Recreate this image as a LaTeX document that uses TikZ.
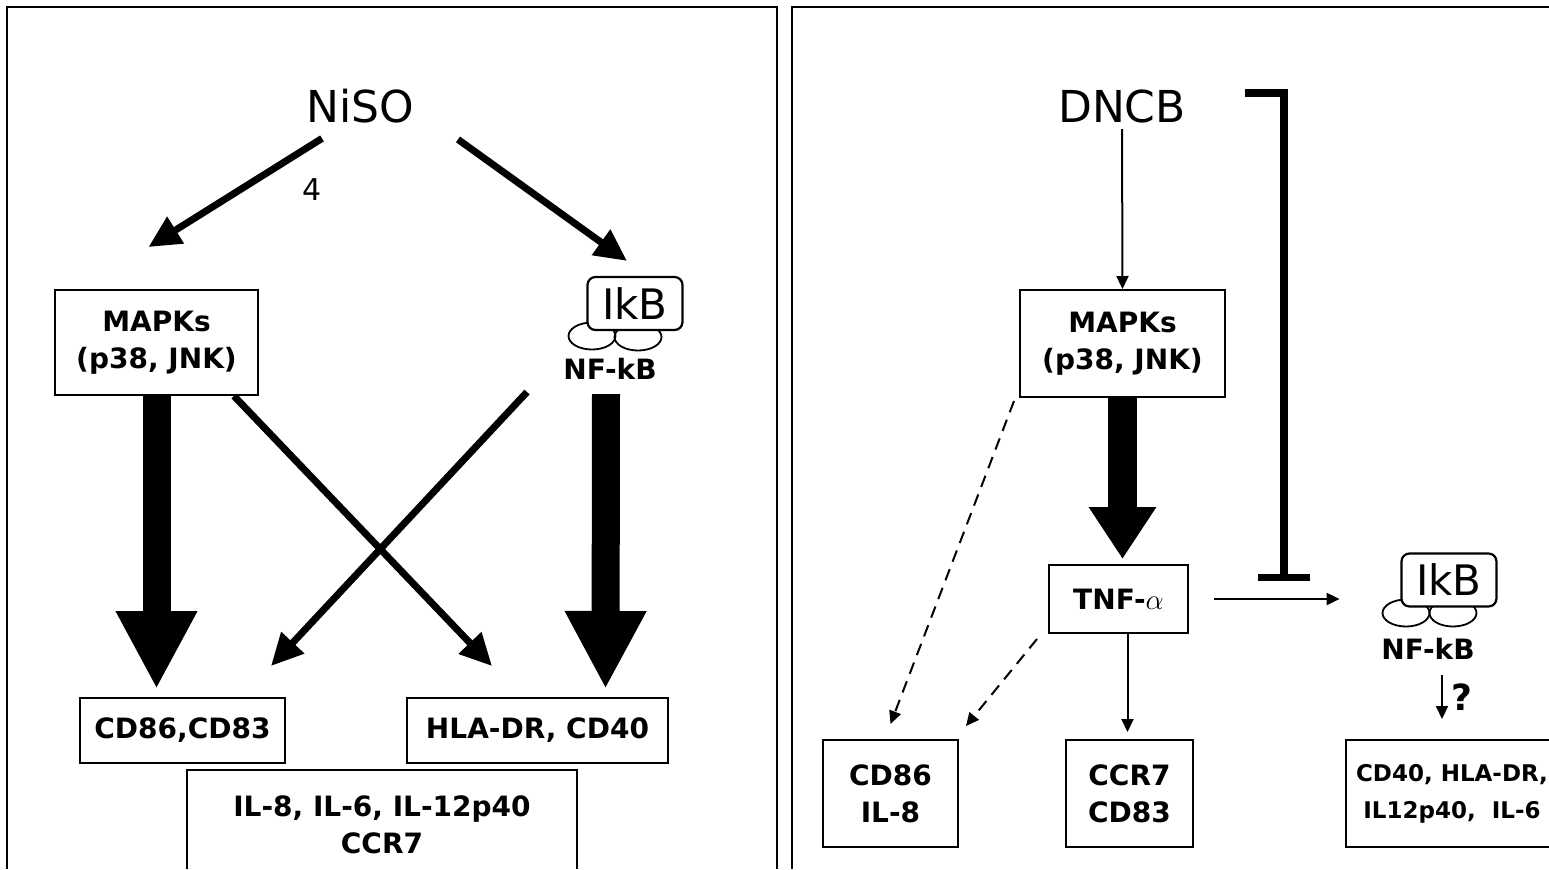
\documentclass[tikz,border=0pt]{standalone}
\usepackage{fontspec}
\setmainfont{DejaVu Sans}
\usetikzlibrary{positioning,shapes.geometric,arrows.meta}
\newcommand{\labfont}{\fontsize{14}{18.5}\selectfont\bfseries}
\newcommand{\titlefont}{\fontsize{22}{26}\selectfont}
\tikzset{
  % --- frames and boxes ------------------------------------------------------
  panel/.style={line width=1.2pt},
  boxline/.style={line width=1pt},
  box/.style={draw,line width=1pt,align=center,inner sep=0pt,font=\labfont},
  lab/.style={inner sep=0pt,align=center,font=\labfont},
  title/.style={inner sep=0pt,font=\titlefont},
  sub/.style={inner sep=0pt,font=\fontsize{15}{18}\selectfont},
  % --- IkB / NF-kB complex ---------------------------------------------------
  ikb/.style={draw,rounded corners=4pt,fill=white,line width=1.1pt,inner sep=0pt,
              minimum width=47.5pt,minimum height=26.5pt,
              font=\fontsize{21}{24}\selectfont},
  lobe/.style={ellipse,draw,line width=0.9pt,inner sep=0pt,
               minimum width=23.5pt,minimum height=13.5pt},
  % --- arrows ----------------------------------------------------------------
  thk/.style={line width=3.5pt,-{Triangle[length=16pt,width=15pt]}},
  blk/.style={line width=14pt,-{Triangle[length=39pt,width=38pt]}},
  blkr/.style={line width=14.5pt,-{Triangle[length=26pt,width=32pt]}},
  thn/.style={line width=1pt,-{Triangle[length=6.5pt,width=6pt]}},
  dsh/.style={thn,dash pattern=on 6pt off 4pt},
  inh/.style={line width=3.6pt,line join=miter,-{Bar[width=26pt]}},
  qmark/.style={inner sep=0pt,font=\fontsize{18}{20}\selectfont\bfseries},
}
\begin{document}
\begin{tikzpicture}[x=0.5pt,y=-0.5pt]
  \useasboundingbox (0,0) rectangle (1549,869);
  \draw[panel] (7,869) |- (777,7) -- (777,869);
  \draw[panel] (792,869) |- (1555,7);

  % left panel: NiSO
  \node[title] (nisoL) at (360,106) {NiSO};
  \node[sub]   (four)  at (312,190) {4};
  \node[box,minimum width=101.5pt,minimum height=52.5pt] (mapkL) at (156.5,342.5) {MAPKs\\(p38, JNK)};
  \node[lobe] (lobeL1) at (592,336) {};
  \node[lobe] (lobeL2) at (638,337) {};
  \node[ikb]  (ikbL)   at (635,303.5) {IkB};
  \node[lab]  (nfkbL)  at (610,369) {NF-kB};
  \node[box,minimum width=102.5pt,minimum height=32.5pt] (cdL)  at (182.5,730.5) {CD86,CD83};
  \node[box,minimum width=130.5pt,minimum height=32.5pt] (hlaL) at (537.5,730.5) {HLA-DR, CD40};
  \draw[boxline] (187,869) |- (577,770) -- (577,869);
  \node[lab] (ilL) at (382,825) {IL-8, IL-6, IL-12p40\\CCR7};

  \draw[thk] ([xshift=-19pt,yshift=-7.5pt]nisoL.south) -- ([xshift=-4pt,yshift=21pt]mapkL.north);
  \draw[thk] ([xshift=49pt,yshift=-8pt]nisoL.south) -- ([xshift=-4pt,yshift=7.5pt]ikbL.north);
  \draw[thk] ([xshift=-12.5pt]mapkL.south east) -- ([xshift=43pt,yshift=15.5pt]hlaL.north west);
  \draw[thk] ([xshift=-41.5pt,yshift=-6pt]nfkbL.south) -- ([xshift=-7.5pt,yshift=15.5pt]cdL.north east);
  \draw[blk] (mapkL.south) -- ([xshift=-13pt,yshift=4pt]cdL.north);
  \draw[blk] ([xshift=-2pt,yshift=-7pt]nfkbL.south) -- ([xshift=34pt,yshift=4pt]hlaL.north);

  % right panel: DNCB
  \node[title] (dncb) at (1122,106) {DNCB};
  \node[box,minimum width=102.5pt,minimum height=53.5pt] (mapkR) at (1122.5,343.5) {MAPKs\\(p38, JNK)};
  \node[box,minimum width=69.5pt,minimum height=34pt] (tnf) at (1118.5,599) {TNF-$\alpha$};
  \node[lobe] (lobeR1) at (1406,613) {};
  \node[lobe] (lobeR2) at (1453,613) {};
  \node[ikb]  (ikbR)   at (1449,580) {IkB};
  \node[lab]  (nfkbR)  at (1428,649) {NF-kB};
  \node[box,minimum width=67.5pt,minimum height=53.5pt] (cdR)   at (890.5,793.5)  {CD86\\IL-8};
  \node[box,minimum width=63.5pt,minimum height=53.5pt] (ccrR)  at (1129.5,793.5) {CCR7\\CD83};
  \node[box,minimum width=106pt,minimum height=53.5pt,font=\fontsize{11.5}{18.5}\selectfont\bfseries]
       (cd40R) at (1452,793.5) {CD40, HLA-DR,\\IL12p40,\ \ IL-6};
  \coordinate (hit) at (1284,581);

  \draw[thn,shorten <=3pt] (dncb.south) -- (mapkR.north);
  \draw[inh] ([xshift=29.5pt,yshift=6.5pt]dncb.east) -| (hit);
  \draw[blkr] (mapkR.south) -- ([xshift=2pt,yshift=2.5pt]tnf.north);
  \draw[thn,shorten <=12.5pt,shorten >=21pt] (tnf.east) -- (tnf.east -| lobeR1.west);
  \draw[thn] ([xshift=7pt,yshift=-7.5pt]nfkbR.south) -- node[right=4pt,qmark] (qm) {?} ([xshift=-5pt,yshift=10pt]cd40R.north);
  \draw[dsh] ([xshift=-2.5pt,yshift=-1.5pt]mapkR.south west) -- ([yshift=7.5pt]cdR.north);
  \draw[dsh] ([xshift=-5.5pt,yshift=-2.5pt]tnf.south west) -- ([xshift=3.5pt,yshift=6.5pt]cdR.north east);
  \draw[thn] ([xshift=4.5pt]tnf.south) -- ([xshift=-1pt,yshift=3.5pt]ccrR.north);
\end{tikzpicture}
\end{document}
